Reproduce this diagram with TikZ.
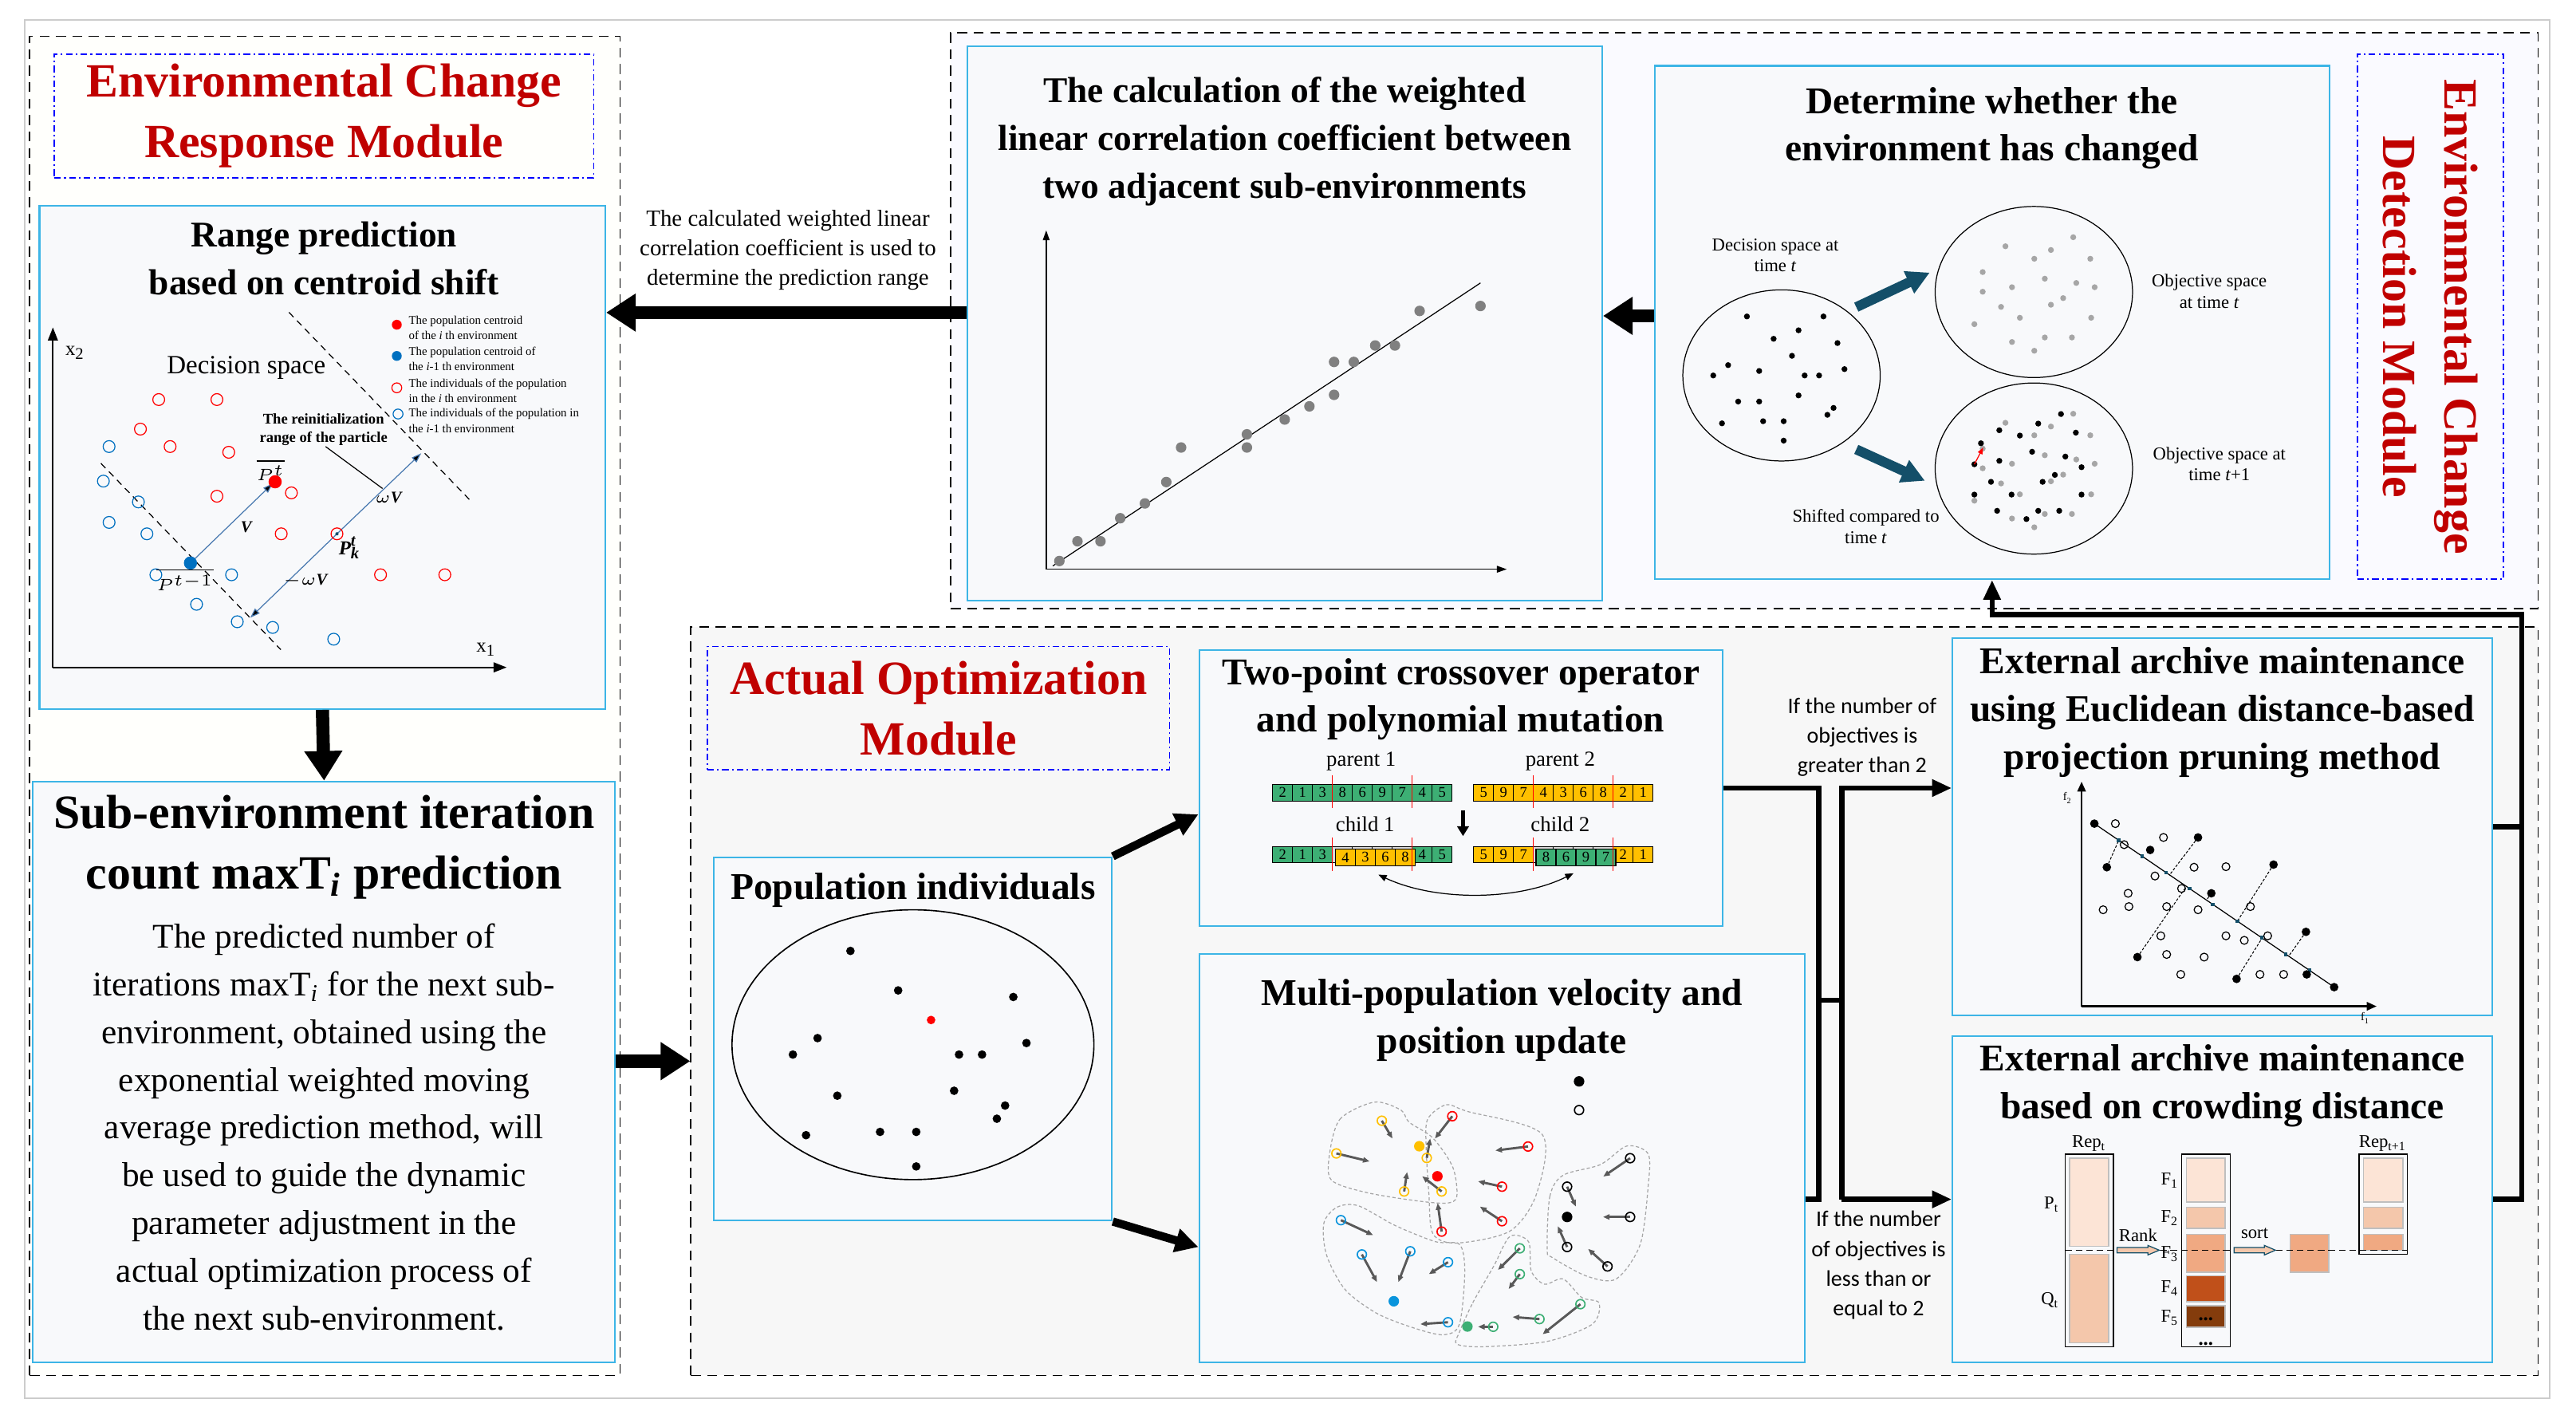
\documentclass[tikz,border=0pt]{standalone}
\usepackage{fontspec}
\setmainfont{Liberation Serif}
\newfontfamily\sansf{Carlito}
\usetikzlibrary{arrows.meta,fit,calc,positioning}
\definecolor{boxline}{HTML}{3DB5E6}
\definecolor{boxfill}{HTML}{F8F9FB}
\definecolor{titlered}{HTML}{C00000}
\definecolor{teal}{HTML}{144F69}
\definecolor{cg}{HTML}{3DAF74}
\definecolor{cy}{HTML}{FFC000}
\definecolor{cgr}{HTML}{D9D9D9}
\definecolor{or1}{HTML}{FCE4D6}
\definecolor{or2}{HTML}{F4C7AB}
\definecolor{or3}{HTML}{F0A982}
\definecolor{or4}{HTML}{C0501A}
\definecolor{or5}{HTML}{843C0C}
\definecolor{vblue}{HTML}{4A7AB0}
\definecolor{cblue}{HTML}{0070C0}

\tikzset{
  box/.style={draw=boxline, fill=boxfill, line width=0.5pt, inner sep=0pt},
  module/.style={draw=black, dashed, dash pattern=on 3pt off 2pt, line width=0.4pt, inner sep=0pt},
  modtitle/.style={draw=blue, dash pattern=on 2pt off 1pt on 0.5pt off 1pt, line width=0.4pt, inner sep=0pt},
  redtitle/.style={text=titlered, font=\fontsize{14.5}{18.5}\selectfont\bfseries, align=center},
  boxtitle/.style={font=\fontsize{11.5}{14.5}\selectfont\bfseries, align=center},
  bigarrow/.style={line width=4pt, -{Triangle[length=9pt,width=11pt]}},
  flow/.style={line width=1.6pt},
  small/.style={font=\fontsize{5.5}{6.5}\selectfont, align=center},
  cellnum/.style={font=\fontsize{4.5}{5}\selectfont, inner sep=0pt},
  dotf/.style={circle, fill, inner sep=0pt, minimum size=#1},
  doto/.style={circle, draw, line width=0.3pt, inner sep=0pt, minimum size=#1}
}

\begin{document}
\begin{tikzpicture}[x=0.5pt,y=-0.5pt]
\useasboundingbox (0,0) rectangle (1566,860);
\fill[white] (0,0) rectangle (1566,860);
\draw[gray!40, line width=0.5pt] (15,12) rectangle (1550,850);

% modules
\node[module, fill=white!99!yellow, fit={(18,22)(377,836)}] (respmod) {};
\node[module, fill=white!98!blue, fit={(578,20)(1543,370)}] (detmod) {};
\node[module, fill=gray!6, fit={(420,381)(1543,836)}] (optmod) {};

% module titles
\node[modtitle, fit={(33,33)(361,108)}] (resptitle) {};
\node[redtitle] at (resptitle.center) {Environmental Change\\Response Module};
\node[modtitle, fit={(1433,33)(1522,352)}] (dettitle) {};
\node[redtitle, rotate=-90] at (dettitle.center) {Environmental Change\\Detection Module};
\node[modtitle, fit={(430,393)(711,468)}] (opttitle) {};
\node[redtitle] at (opttitle.center) {Actual Optimization\\Module};

% boxes
\node[box, fit={(24,125)(368,431)}] (range) {};
\node[box, fit={(20,475)(374,828)}] (subenv) {};
\node[box, fit={(588,28)(974,365)}] (wcalc) {};
\node[box, fit={(1006,40)(1416,352)}] (det) {};
\node[box, fit={(434,521)(676,742)}] (pop) {};
\node[box, fit={(729,395)(1047,563)}] (cross) {};
\node[box, fit={(729,580)(1097,828)}] (multi) {};
\node[box, fit={(1187,388)(1515,617)}] (euclid) {};
\node[box, fit={(1187,630)(1515,828)}] (crowd) {};

% box titles
\node[boxtitle, font=\fontsize{11}{14.5}\selectfont\bfseries] at (197,157) {Range prediction\\based on centroid shift};
\node[boxtitle, font=\fontsize{14.5}{18.5}\selectfont\bfseries] at (197,515) {Sub-environment iteration\\count maxT\textsubscript{\textit{i}} prediction};
\node[align=center, font=\fontsize{10.5}{14.5}\selectfont] at (197,685) {The predicted number of\\iterations maxT\textsubscript{\textit{i}} for the next sub-\\environment, obtained using the\\exponential weighted moving\\average prediction method, will\\be used to guide the dynamic\\parameter adjustment in the\\actual optimization process of\\the next sub-environment.};
\node[boxtitle, font=\fontsize{11}{14.5}\selectfont\bfseries] at (781,86) {The calculation of the weighted\\linear correlation coefficient between\\two adjacent sub-environments};
\node[boxtitle] at (1211,78) {Determine whether the\\environment has changed};
\node[boxtitle] at (555,541) {Population individuals};
\node[boxtitle] at (888,425) {Two-point crossover operator\\and polynomial mutation};
\node[boxtitle] at (913,620) {Multi-population velocity and\\position update};
\node[boxtitle] at (1351,433) {External archive maintenance\\using Euclidean distance-based\\projection pruning method};
\node[boxtitle] at (1351,660) {External archive maintenance\\based on crowding distance};

% connectors
\draw[bigarrow] (wcalc.west |- 0,190) -- (range.east |- 0,190);
\node[align=center, font=\fontsize{7}{9}\selectfont] at (479,152) {The calculated weighted linear\\correlation coefficient is used to\\determine the prediction range};
\draw[bigarrow] (det.west |- 0,192) -- (wcalc.east |- 0,192);
\draw[bigarrow] (range.south) -- (subenv.north);
\draw[bigarrow] (subenv.east |- 0,645) -- (optmod.west |- 0,645);
\draw[line width=2.5pt, -{Triangle[length=7pt,width=7pt]}] (pop.north east) -- (cross.west |- 0,495);
\draw[line width=2.5pt, -{Triangle[length=7pt,width=7pt]}] (pop.south east) -- (multi.west |- 0,758);

\coordinate (b1) at (1105.7,479);
\coordinate (b2) at (1119.6,479);
\coordinate (fbR) at (1533,373.6);
\draw[flow] (cross.east) -- (b1) -- (b1 |- crowd.east) -- (multi.east |- crowd.east);
\draw[flow] (b1 |- 0,608) -- (b2 |- 0,608);
\draw[flow, -{Triangle[length=6pt,width=5pt]}] (b2 |- crowd.east) -- (b2) -- (euclid.west |- b2);
\draw[flow, -{Triangle[length=6pt,width=5pt]}] (b2 |- crowd.east) -- (crowd.west);
\node[align=center, font=\sansf\fontsize{6.8}{9}\selectfont] at (1132,448) {If the number of\\objectives is\\greater than 2};
\node[align=center, font=\sansf\fontsize{6.8}{9}\selectfont] at (1142,769) {If the number\\of objectives is\\less than or\\equal to 2};
\draw[flow] (euclid.east) -- (euclid.east -| fbR);
\draw[flow, -{Triangle[length=6pt,width=5pt]}] (crowd.east) -| (fbR) -| (det.south);

% range prediction plot
\begin{scope}[shift={(0,116.4)}, xscale=0.2474, yscale=0.2040]
  \draw[line width=0.5pt, -{Triangle[length=4pt,width=3pt]}] (130,1418) -- (130,405);
  \draw[line width=0.5pt, -{Triangle[length=4pt,width=3pt]}] (130,1418) -- (1245,1418);
  \node[font=\fontsize{6}{6}\selectfont] at (185,480) {x\textsubscript{2}};
  \node[font=\fontsize{6}{6}\selectfont] at (1195,1365) {x\textsubscript{1}};
  \node[font=\fontsize{8}{8}\selectfont] at (605,525) {Decision space};
  \draw[dash pattern=on 2pt off 1.5pt, line width=0.3pt] (248,810) -- (690,1365);
  \draw[dash pattern=on 2pt off 1.5pt, line width=0.3pt] (710,360) -- (1155,920);
  \draw[line width=0.3pt] (800,760) -- (940,885);
  \draw[vblue, line width=0.3pt, -{Triangle[length=3pt,width=2pt,fill=black]}] (468,1107) -- (670,870);
  \draw[vblue, line width=0.3pt, -{Triangle[length=3pt,width=2pt,fill=black]}] (828,1020) -- (1035,780);
  \draw[vblue, line width=0.3pt, -{Triangle[length=3pt,width=2pt,fill=black]}] (828,1020) -- (615,1270);
  \foreach \p in {(390,620),(533,620),(345,708),(418,760),(562,777),(533,908),(716,898),(691,1020),(828,1020),(935,1142),(1093,1142)}
    \node[doto=3.6pt, draw=red] at \p {};
  \foreach \p in {(268,760),(254,863),(340,925),(268,986),(361,1020),(383,1142),(569,1142),(483,1230),(583,1282),(670,1299),(820,1334)}
    \node[doto=3.6pt, draw=cblue] at \p {};
  \node[dotf=4pt, fill=cblue] at (468,1107) {};
  \node[dotf=4pt, fill=red] at (676,865) {};
  \node[dotf=1pt, fill=teal] at (828,1020) {};
  \node[font=\fontsize{5}{5}\selectfont\bfseries\itshape] at (605,1000) {V};
  \node[font=\fontsize{5}{5}\selectfont\bfseries\itshape] at (955,912) {$\omega$V};
  \node[font=\fontsize{5}{5}\selectfont\bfseries\itshape] at (750,1160) {$-\omega$V};
  \node[font=\fontsize{6}{6}\selectfont\bfseries\itshape] at (855,1062) {P\textsubscript{\textit{k}}\kern-3pt\textsuperscript{\textit{t}}};
  \node[font=\fontsize{5}{5}\selectfont] at (665,830) {$\overline{P^{t}}$};
  \node[font=\fontsize{5}{5}\selectfont] at (455,1155) {$\overline{P^{t-1}}$};
  \node[align=center, font=\fontsize{4.5}{5.6}\selectfont\bfseries] at (795,710) {The reinitialization\\range of the particle};
  \node[dotf=3pt, fill=red] at (975,397) {};
  \node[dotf=3pt, fill=cblue] at (975,490) {};
  \node[doto=3pt, draw=red] at (975,585) {};
  \node[doto=3pt, draw=cblue] at (978,663) {};
  \foreach \yy/\t in {406/{The population centroid\\of the \textit{i} th environment},
                      498/{The population centroid of\\the \textit{i}-1 th environment},
                      593/{The individuals of the population\\in the \textit{i} th environment},
                      683/{The individuals of the population in\\the \textit{i}-1 th environment}}
    \node[anchor=west, align=left, font=\fontsize{3.6}{4.7}\selectfont, inner sep=0pt] at (1003,\yy) {\t};
\end{scope}

% weighted correlation plot
\draw[line width=0.4pt, -{Triangle[length=3pt,width=2pt]}] (636,346) -- (636,140);
\draw[line width=0.4pt, -{Triangle[length=3pt,width=2pt]}] (636,346) -- (916,346);
\draw[line width=0.3pt] (640,344) -- (900,172);
\foreach \p in {(644,341),(655,329),(669,329),(681,315),(696,306),(709,293),(718,272),(758,264),(758,272),(781,255),(796,247),(811,220),(811,240),(823,220),(836,210),(848,210),(863,189),(900,186)}
  \fill[gray] \p circle (1.6pt);

% environment change detection
\draw[line width=0.3pt] (1083,228.2) ellipse [x radius=30pt, y radius=26pt];
\draw[line width=0.3pt] (1236.4,177.5) ellipse [x radius=30pt, y radius=26pt];
\draw[line width=0.3pt] (1236.4,284.8) ellipse [x radius=30pt, y radius=26pt];
\begin{scope}[shift={(1018.1,126.1)}, xscale=0.2659, yscale=0.1616]
  \foreach \p in {(165,410),(340,410),(283,462),(226,494),(372,510),(268,558),(122,593),(193,615),(88,632),(297,632),(330,632),(388,608),(283,707),(145,730),(193,730),(363,754),(349,780),(108,812),(202,804),(249,804),(249,877)}
    \node[dotf=1.8pt] at \p {};
  \foreach \a/\b in {911/112,756/146,860/160,822/193,950/193,704/243,846/268,918/284,960/300,771/300,704/317,888/341,860/366,746/374,789/415,952/415,685/439,846/489,908/489,771/506,822/539}{
    \node[dotf=1.8pt, fill=gray!70] at (\a,\b) {};
    \node[dotf=1.8pt, fill=gray!70] at (\a,\b+664) {};}
  \foreach \p in {(883,777),(831,813),(742,838),(789,858),(917,847),(700,887),(817,919),(893,937),(742,953),(685,966),(930,977),(869,1006),(723,1032),(841,1032),(685,1080),(770,1080),(930,1080),(737,1141),(831,1141),(879,1141),(804,1172)}
    \node[dotf=1.8pt] at \p {};
  \draw[red, line width=0.3pt, -{Triangle[length=2pt,width=1.5pt]}] (685,966) -- (705,903);
  \draw[teal, line width=3pt, -{Triangle[length=7pt,width=7pt]}] (415,375) -- (583,245);
  \draw[teal, line width=3pt, -{Triangle[length=7pt,width=7pt]}] (415,910) -- (572,1028);
  \node[small] at (230,180) {Decision space at\\time \textit{t}};
  \node[small] at (1222,315) {Objective space\\at time \textit{t}};
  \node[small] at (1245,965) {Objective space at\\time \textit{t}+1};
  \node[small] at (437,1200) {Shifted compared to\\time \textit{t}};
\end{scope}

% population individuals
\draw[line width=0.4pt] (555,635) ellipse [x radius=55pt, y radius=41pt];
\foreach \p in {(517,578),(546,602),(616,606),(497,631),(624,634),(583,641),(597,641),(482,641),(509,666),(580,663),(611,672),(606,680),(535,688),(557,688),(490,690),(557,709)}
  \fill \p circle (1.3pt);
\fill[red] (566,620) circle (1.3pt);

% crossover
\begin{scope}[shift={(751.5,436.3)}, xscale=0.2010, yscale=0.1616]
  \foreach \v [count=\k from 0] in {2,1,3,8,6,9,7,4,5}{
    \draw[fill=cg, line width=0.3pt] ({110+\k*60.3},250) rectangle ({170.3+\k*60.3},313);
    \node[cellnum] at ({140.15+\k*60.3},281.5) {\v};}
  \foreach \v [count=\k from 0] in {5,9,7,4,3,6,8,2,1}{
    \draw[fill=cy, line width=0.3pt] ({718+\k*60.3},250) rectangle ({778.3+\k*60.3},313);
    \node[cellnum] at ({748.15+\k*60.3},281.5) {\v};}
  \foreach \c/\v [count=\k from 0] in {cg/2,cg/1,cg/3,cgr/,cgr/,cgr/,cgr/,cg/4,cg/5}{
    \draw[fill=\c, line width=0.3pt] ({110+\k*60.3},485) rectangle ({170.3+\k*60.3},545);
    \node[cellnum] at ({140.15+\k*60.3},515) {\v};}
  \foreach \c/\v [count=\k from 0] in {cy/5,cy/9,cy/7,cgr/,cgr/,cgr/,cgr/,cy/2,cy/1}{
    \draw[fill=\c, line width=0.3pt] ({718+\k*60.3},485) rectangle ({778.3+\k*60.3},545);
    \node[cellnum] at ({748.15+\k*60.3},515) {\v};}
  \foreach \v [count=\k from 0] in {4,3,6,8}{
    \draw[fill=cy, line width=0.3pt] ({300+\k*60.3},493) rectangle ({360.3+\k*60.3},557);
    \node[cellnum] at ({330.15+\k*60.3},525) {\v};}
  \foreach \v [count=\k from 0] in {8,6,9,7}{
    \draw[fill=cg, line width=0.3pt] ({907+\k*60.3},493) rectangle ({967.3+\k*60.3},557);
    \node[cellnum] at ({937.15+\k*60.3},525) {\v};}
  \foreach \xx in {290,532,898,1140}{
    \draw[red, line width=0.3pt] (\xx,215) -- (\xx,340);
    \draw[red, line width=0.3pt] (\xx,450) -- (\xx,575);}
  \node[font=\fontsize{6.5}{6.5}\selectfont] at (378,165) {parent 1};
  \node[font=\fontsize{6.5}{6.5}\selectfont] at (980,165) {parent 2};
  \node[font=\fontsize{6.5}{6.5}\selectfont] at (390,400) {child 1};
  \node[font=\fontsize{6.5}{6.5}\selectfont] at (980,400) {child 2};
  \draw[line width=1.3pt, -{Triangle[length=3pt,width=3.5pt]}] (686,348) -- (686,445);
  \draw[line width=0.3pt, {Triangle[length=2.5pt,width=2pt]}-{Triangle[length=2.5pt,width=2pt]}] (430,590) .. controls (600,690) and (850,690) .. (1020,585);
\end{scope}

% multi-population update
\begin{scope}[shift={(795.1,649.7)}, scale=0.1616]
  \tikzset{hull/.style={gray!70, dash pattern=on 1pt off 0.7pt, line width=0.3pt},
           mv/.style={black!65, line width=0.7pt, -{Triangle[length=2pt,width=1.6pt]}}}
  \draw[hull] plot[smooth cycle] coordinates {(80,330) (120,190) (250,125) (350,155) (380,200) (470,260) (545,370) (560,480) (520,505) (400,495) (220,465) (90,420)};
  \draw[hull] plot[smooth cycle] coordinates {(450,190) (520,135) (600,160) (880,245) (860,470) (760,610) (560,655) (470,620) (455,470) (445,300)};
  \draw[hull] plot[smooth cycle] coordinates {(60,580) (110,520) (190,515) (330,590) (480,650) (570,660) (590,760) (570,960) (510,1000) (400,975) (260,920) (140,830) (70,700)};
  \draw[hull] plot[smooth cycle] coordinates {(570,990) (620,880) (700,740) (760,630) (830,650) (840,760) (890,810) (960,790) (1030,860) (1095,880) (1070,960) (900,1025) (660,1045) (560,1035)};
  \draw[hull] plot[smooth cycle] coordinates {(900,680) (910,480) (960,400) (1100,360) (1200,290) (1280,320) (1280,440) (1250,660) (1160,790) (1050,780) (920,710)};
  \foreach \col/\lst in {cy/{278/195/318/262,107/318/232/348,447/335/460/262,362/461/373/388,503/461/430/404},
                         red/{543/178/478/262,828/292/705/307,730/443/640/423,730/573/647/518,503/612/488/505},
                         cyan!80!blue/{124/569/245/625,203/698/260/802,385/686/340/802,527/727/455/772,527/953/423/960},
                         cg/{797/675/715/756,797/772/755/828,1025/885/883/998,871/941/770/933,697/970/640/970},
                         black/{1212/336/1111/405,975/443/1008/518,1212/557/1110/557,975/670/940/592,1127/743/1054/677}}{
    \foreach \a/\b/\c/\d in \lst{
      \draw[mv] (\a,\b) -- (\c,\d);
      \node[doto=2.8pt, draw=\col, line width=0.4pt] at (\a,\b) {};}}
  \node[dotf=3.2pt, fill=cy] at (419,291) {};
  \node[dotf=3.2pt, fill=red] at (487,404) {};
  \node[dotf=3.2pt, fill=cyan!80!blue] at (323,874) {};
  \node[dotf=3.2pt, fill=cg] at (600,969) {};
  \node[dotf=3.2pt] at (975,557) {};
  \node[dotf=3.2pt] at (1020,47) {};
  \node[doto=2.8pt, line width=0.4pt] at (1020,155) {};
\end{scope}

% euclidean projection pruning
\begin{scope}[shift={(1192.7,475.1)}, scale=0.1616]
  \draw[line width=0.6pt, -{Triangle[length=3pt,width=2.5pt]}] (450,845) -- (450,0);
  \draw[line width=0.6pt, -{Triangle[length=3pt,width=2.5pt]}] (450,845) -- (1560,845);
  \node[font=\fontsize{3.5}{3.5}\selectfont] at (398,62) {f\textsubscript{2}};
  \node[font=\fontsize{3.5}{3.5}\selectfont] at (1518,890) {f\textsubscript{1}};
  \draw[line width=0.3pt] (498,158) -- (1400,773);
  \foreach \a/\b/\c/\d in {545/322/590/220,888/210/780/352,660/660/840/400,938/420/920/445,1172/312/1036/525,1033/742/1128/590,1294/565/1230/655}
    \draw[line width=0.25pt, dash pattern=on 0.8pt off 0.5pt] (\a,\b) -- (\c,\d);
  \foreach \xx in {590,678,768,856,944,1036,1128,1218,1308}
    \fill[teal] ({\xx-7},{158+(\xx-498)*0.682-7}) rectangle ({\xx+7},{158+(\xx-498)*0.682+7});
  \foreach \p in {(498,158),(545,322),(708,257),(888,210),(938,420),(660,660),(1172,312),(1033,742),(1294,565),(1297,725),(1400,773)}
    \node[dotf=2.6pt] at \p {};
  \foreach \p in {(577,158),(610,237),(758,210),(726,355),(873,322),(993,320),(625,420),(531,482),(628,470),(770,470),(826,402),(888,482),(1085,470),(748,580),(993,580),(1062,597),(1150,580),(770,650),(911,660),(823,725),(1121,725),(1210,725)}
    \node[doto=2.4pt] at \p {};
\end{scope}

% crowding distance
\begin{scope}[shift={(1183,630.3)}, xscale=0.1979, yscale=0.1616]
  \tikzset{blk/.style={draw=gray!50, line width=0.4pt}}
  \draw[line width=0.4pt] (366,440) rectangle (515,1165);
  \draw[blk, fill=or1] (380,455) rectangle (500,787);
  \draw[blk, fill=or2] (380,817) rectangle (500,1150);
  \draw[line width=0.4pt] (724,440) -- (724,1165) -- (873,1165) -- (873,440) -- cycle;
  \draw[blk, fill=or1] (738,455) rectangle (858,620);
  \draw[blk, fill=or2] (738,640) rectangle (858,720);
  \draw[blk, fill=or3] (738,742) rectangle (858,885);
  \draw[blk, fill=or4] (738,898) rectangle (858,995);
  \draw[blk, fill=or5] (738,1010) rectangle (858,1092);
  \draw[blk, fill=or3] (1057,742) rectangle (1175,885);
  \draw[line width=0.4pt] (1268,440) rectangle (1417,817);
  \draw[blk, fill=or1] (1282,455) rectangle (1403,620);
  \draw[blk, fill=or2] (1282,640) rectangle (1403,720);
  \draw[blk, fill=or3] (1282,742) rectangle (1403,802);
  \draw[dash pattern=on 2pt off 1.2pt, line width=0.3pt] (366,802) -- (1417,802);
  \draw[teal, fill=or2, line width=0.3pt] (525,792) -- (620,792) -- (620,784) -- (655,802) -- (620,820) -- (620,812) -- (525,812) -- cycle;
  \draw[teal, fill=or2, line width=0.3pt] (885,792) -- (978,792) -- (978,784) -- (1012,802) -- (978,820) -- (978,812) -- (885,812) -- cycle;
  \node[small] at (440,400) {Rep\textsubscript{t}};
  \node[small] at (1342,400) {Rep\textsubscript{t+1}};
  \node[small] at (325,630) {P\textsubscript{t}};
  \node[small] at (320,990) {Q\textsubscript{t}};
  \foreach \yy [count=\k] in {540,680,815,945,1055}
    \node[small] at (688,\yy) {F\textsubscript{\k}};
  \node[small] at (590,745) {Rank};
  \node[small] at (948,740) {sort};
  \node[font=\fontsize{6}{6}\selectfont\bfseries] at (798,1060) {...};
  \node[font=\fontsize{6}{6}\selectfont\bfseries] at (798,1155) {...};
\end{scope}
\end{tikzpicture}
\end{document}
